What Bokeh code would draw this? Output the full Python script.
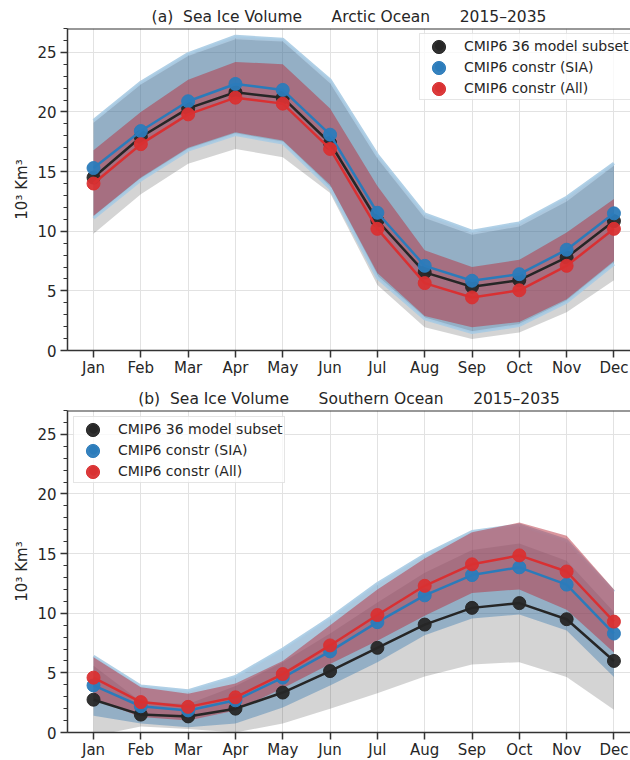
from bokeh.plotting import figure
from bokeh.models import (ColumnDataSource, FixedTicker, Legend, LegendItem, Span, Range1d)
from bokeh.layouts import column
from bokeh.embed import file_html
from bokeh.resources import INLINE

months = ["Jan", "Feb", "Mar", "Apr", "May", "Jun", "Jul", "Aug", "Sep", "Oct", "Nov", "Dec"]
series_names = ["CMIP6 36 model subset", "CMIP6 constr (SIA)", "CMIP6 constr (All)"]

# (a) Arctic Ocean, 10^3 km^3
arc_model = [14.5, 17.9, 20.3, 21.65, 21.2, 17.4, 10.9, 6.55, 5.35, 5.9, 7.8, 10.85]
arc_sia = [15.3, 18.4, 20.9, 22.35, 21.85, 18.1, 11.55, 7.1, 5.85, 6.4, 8.45, 11.5]
arc_all = [14.0, 17.3, 19.8, 21.2, 20.7, 16.9, 10.2, 5.65, 4.45, 5.05, 7.1, 10.2]
arc_model_lo = [9.8, 13.1, 15.65, 16.9, 16.2, 13.2, 5.5, 1.95, 0.97, 1.5, 3.2, 5.9]
arc_model_hi = [19.1, 22.3, 24.7, 26.1, 25.9, 22.4, 16.1, 11.1, 9.7, 10.4, 12.5, 15.5]
arc_sia_lo = [11.1, 14.3, 16.8, 18.1, 17.4, 13.6, 6.1, 2.65, 1.5, 2.1, 4.05, 7.25]
arc_sia_hi = [19.3, 22.5, 24.9, 26.35, 26.1, 22.7, 16.4, 11.45, 10.0, 10.7, 12.85, 15.7]
arc_all_lo = [11.3, 14.5, 17.0, 18.3, 17.6, 13.9, 6.5, 2.9, 1.95, 2.4, 4.3, 7.5]
arc_all_hi = [16.8, 20.0, 22.7, 24.2, 24.0, 20.3, 13.8, 8.4, 7.0, 7.6, 9.9, 12.7]

# (b) Southern Ocean, 10^3 km^3
sou_model = [2.75, 1.5, 1.35, 2.0, 3.35, 5.15, 7.1, 9.05, 10.45, 10.85, 9.5, 6.0]
sou_sia = [3.95, 2.2, 1.85, 2.7, 4.6, 6.8, 9.25, 11.5, 13.2, 13.85, 12.4, 8.3]
sou_all = [4.6, 2.55, 2.15, 2.95, 4.9, 7.3, 9.85, 12.3, 14.1, 14.85, 13.5, 9.3]
sou_model_lo = [-0.3, 0.5, 0.3, 0.0, 0.75, 2.0, 3.3, 4.7, 5.7, 5.9, 4.65, 1.9]
sou_model_hi = [5.6, 2.6, 2.4, 3.9, 5.9, 8.3, 10.9, 13.4, 15.3, 15.85, 14.4, 10.1]
sou_sia_lo = [1.4, 0.75, 0.45, 0.75, 2.1, 3.95, 5.9, 8.15, 9.55, 9.9, 8.55, 4.65]
sou_sia_hi = [6.4, 3.9, 3.5, 4.7, 7.0, 9.6, 12.5, 14.9, 16.85, 17.4, 16.1, 11.8]
sou_all_lo = [2.8, 1.3, 1.0, 1.85, 3.7, 5.75, 7.7, 9.8, 11.7, 12.0, 10.3, 6.7]
sou_all_hi = [6.3, 3.8, 3.25, 4.1, 6.0, 9.0, 12.0, 14.6, 16.8, 17.6, 16.5, 12.0]

y_ticks = [0, 5, 10, 15, 20, 25]

FONT = "DejaVu Sans"
TXT = "#262626"
AX = "#333333"
C_MODEL = "#262626"
C_SIA = "#2b7bba"
C_ALL = "#d93032"
NB = "\u00a0"


def make_panel(title, model, sia, allc, m_lo, m_hi, s_lo, s_hi, a_lo, a_hi,
               legend_loc, top_border, bottom_border, lower_edge):
    x = list(range(len(months)))
    src = ColumnDataSource(dict(x=x, model=model, sia=sia, allc=allc,
                                m_lo=m_lo, m_hi=m_hi, s_lo=s_lo, s_hi=s_hi,
                                a_lo=a_lo, a_hi=a_hi))
    p = figure(frame_width=563, frame_height=322,
               min_border_left=67, min_border_right=0,
               min_border_top=top_border, min_border_bottom=bottom_border,
               x_range=Range1d(-0.55, 11.35), y_range=Range1d(0, 27),
               output_backend="svg", toolbar_location=None, title=title)
    p.title.text_font = FONT
    p.title.text_font_size = "15.5px"
    p.title.text_font_style = "normal"
    p.title.text_color = TXT
    p.title.align = "center"
    p.title.offset = 4
    p.title.standoff = 6

    p.outline_line_color = None
    p.background_fill_color = "white"

    p.xaxis.ticker = FixedTicker(ticks=x)
    p.xaxis.major_label_overrides = {i: m for i, m in enumerate(months)}
    p.yaxis.ticker = FixedTicker(ticks=y_ticks, minor_ticks=list(range(0, 28)))
    for ax in (p.xaxis, p.yaxis):
        ax.axis_line_color = AX
        ax.axis_line_width = 1.5
        ax.major_tick_line_color = AX
        ax.major_tick_line_width = 1.5
        ax.major_tick_out = 7
        ax.major_tick_in = 0
        ax.minor_tick_out = 4
        ax.minor_tick_in = 0
        ax.minor_tick_line_color = AX
        ax.major_label_text_font = FONT
        ax.major_label_text_font_size = "15px"
        ax.major_label_text_color = TXT
    p.xaxis.minor_tick_line_color = None
    p.xaxis.major_label_standoff = 1
    p.yaxis.major_label_standoff = 4
    p.yaxis.axis_label = "10³ Km³"
    p.yaxis.axis_label_text_font = FONT
    p.yaxis.axis_label_text_font_size = "15px"
    p.yaxis.axis_label_text_font_style = "normal"
    p.yaxis.axis_label_text_color = TXT
    p.yaxis.axis_label_standoff = 3

    p.xgrid.ticker = FixedTicker(ticks=x)
    p.ygrid.ticker = FixedTicker(ticks=y_ticks)
    for g in (p.xgrid, p.ygrid):
        g.grid_line_color = "#e2e2e2"
        g.grid_line_width = 1

    # bands
    p.varea(x="x", y1="m_lo", y2="m_hi", source=src, fill_color="black", fill_alpha=0.17)
    p.varea(x="x", y1="s_lo", y2="s_hi", source=src, fill_color="#4682b4", fill_alpha=0.45)
    p.line(x="x", y="s_hi", source=src, line_color="#a9cbe3", line_width=3, line_alpha=0.9)
    if lower_edge:
        p.line(x="x", y="s_lo", source=src, line_color="#a9cbe3", line_width=3, line_alpha=0.9)
    p.varea(x="x", y1="a_lo", y2="a_hi", source=src, fill_color="#b8303e", fill_alpha=0.5)

    # mean lines and points
    rs = []
    for col, c in (("model", C_MODEL), ("sia", C_SIA), ("allc", C_ALL)):
        p.line(x="x", y=col, source=src, line_color=c, line_width=2.5)
        r = p.scatter(x="x", y=col, source=src, size=13, fill_color=c, line_color=c,
                      fill_alpha=0.95, line_alpha=0.95)
        rs.append(r)

    lx, ly = legend_loc
    legend = Legend(items=[LegendItem(label=n, renderers=[r]) for n, r in zip(series_names, rs)],
                    location=(lx, ly))
    legend.label_text_font = FONT
    legend.label_text_font_size = "14px"
    legend.label_text_color = TXT
    legend.glyph_width = 36
    legend.glyph_height = 21
    legend.label_height = 21
    legend.spacing = 0
    legend.padding = 1
    legend.margin = 0
    legend.label_standoff = 7
    legend.border_line_color = "#cccccc"
    legend.border_line_width = 1
    legend.background_fill_alpha = 0.8
    p.add_layout(legend)

    # larger legend markers, one overlay per entry
    for i, r in enumerate(rs):
        ov = Legend(items=[LegendItem(label=" ", renderers=[r])],
                    location=(lx + 2.5, ly + 37 - 21 * i))
        ov.glyph_width = 33
        ov.glyph_height = 33
        ov.label_height = 33
        ov.label_standoff = 0
        ov.label_text_font_size = "1px"
        ov.padding = 0
        ov.margin = 0
        ov.spacing = 0
        ov.border_line_color = None
        ov.background_fill_color = None
        ov.background_fill_alpha = 0
        p.add_layout(ov)

    p.add_layout(Span(location=27, dimension="width", line_color=AX, line_width=2))
    return p


t1 = "(a)" + NB + " Sea Ice Volume" + NB * 5 + " Arctic Ocean" + NB * 5 + " 2015–2035"
t2 = "(b)" + NB + " Sea Ice Volume" + NB * 5 + " Southern Ocean" + NB * 5 + " 2015–2035"

p1 = make_panel(t1, arc_model, arc_sia, arc_all, arc_model_lo, arc_model_hi,
                arc_sia_lo, arc_sia_hi, arc_all_lo, arc_all_hi,
                (352, 250), 28, 30, True)
p2 = make_panel(t2, sou_model, sou_sia, sou_all, sou_model_lo, sou_model_hi,
                sou_sia_lo, sou_sia_hi, sou_all_lo, sou_all_hi,
                (6, 249), 30, 28, False)

layout = column(p1, p2, spacing=0)
open("out.html", "w").write(file_html(layout, INLINE))
